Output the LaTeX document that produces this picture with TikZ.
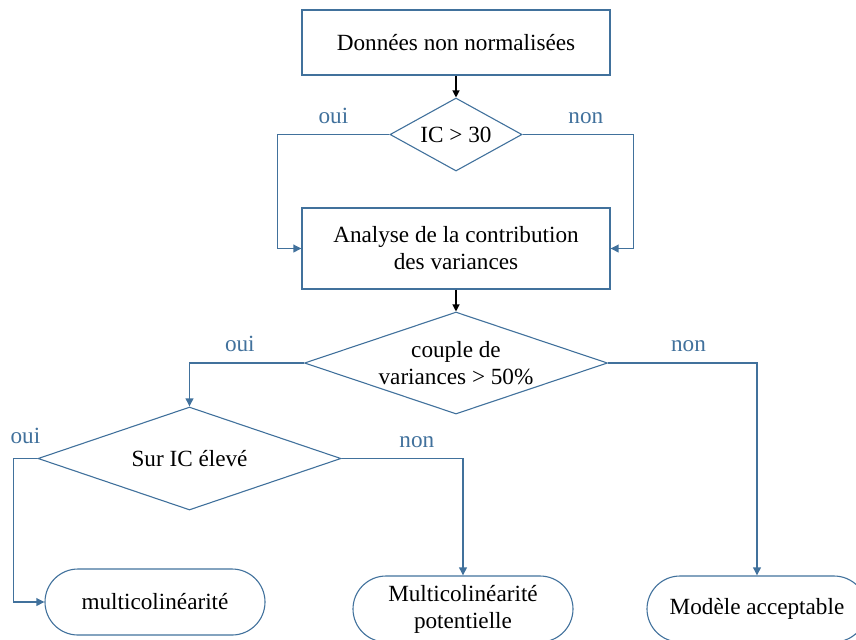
\documentclass[tikz,border=0pt]{standalone}
\usepackage{fontspec}
\setmainfont{Liberation Serif}
\usepackage{tikz}
\usetikzlibrary{arrows.meta,positioning,shapes.geometric,calc}

\definecolor{flowblue}{RGB}{65,113,156}

\begin{document}
\begin{tikzpicture}[
    x=0.5pt,
    y=-0.5pt,
    font=\fontsize{11.6}{13.5}\selectfont,
    box/.style={draw=flowblue, rectangle, align=center, minimum width=154pt, line width=0.55pt},
    test/.style={draw=flowblue, diamond, align=center, inner sep=0pt, line width=0.55pt},
    term/.style={draw=flowblue, rectangle, rounded corners=16.5pt, align=center, minimum width=110pt, minimum height=33pt, line width=0.55pt},
    flow/.style={-{Triangle[length=4pt,width=3.8pt]}, draw=flowblue, line width=0.85pt},
    down/.style={-{Triangle[length=3.5pt,width=3.5pt]}, black, line width=0.6pt},
    lbl/.style={text=flowblue, above=5pt, inner sep=0pt}
  ]
    \useasboundingbox (0,0) rectangle (856,639);

    % -- boites et tests --
    \node[box, minimum height=32.5pt] (b1) at (456, 42.5) {Données non normalisées};
    \node[test, aspect=1.8, minimum width=66pt, minimum height=36.5pt] (d1) at (456, 134.5) {IC > 30};
    \node[box, minimum height=40.5pt] (b2) at (456, 248.5) {Analyse de la contribution\\des variances};
    \node[test, aspect=3, minimum width=151.5pt, minimum height=51pt] (d2) at (456, 363) {couple de\\variances > 50\%};
    \node[test, aspect=3, minimum width=151.5pt, minimum height=51.5pt] (d3) at (189.5, 458.5) {Sur IC élevé};

    % -- sorties --
    \node[term] (t1) at (155, 602) {multicolinéarité};
    \node[term] (t2) at (463, 609) {Multicolinéarité\\potentielle};
    \node[term] (t3) at (757, 609) {Modèle acceptable};

    % -- premier test --
    \draw[down] (b1) -- (d1);
    \draw[flow] (d1.west) -- node[lbl]{oui} ++(-112,0) |- (b2.west);
    \draw[flow] (d1.east) -- node[lbl, pos=0.57]{non} ++(111,0) |- (b2.east);

    % -- contribution des variances --
    \draw[down] (b2) -- (d2);
    \draw[flow] (d2.west) -| node[lbl, pos=0.28]{oui} (d3.north);
    \draw[flow] (d2.east) -| node[lbl, pos=0.27]{non} (t3.north);

    % -- IC eleve --
    \draw[flow] (d3.west) -- node[lbl, above=7pt]{oui} ++(-24,0) |- (t1.west);
    \draw[flow] (d3.east) -| node[lbl, pos=0.31]{non} (t2.north);
\end{tikzpicture}
\end{document}
